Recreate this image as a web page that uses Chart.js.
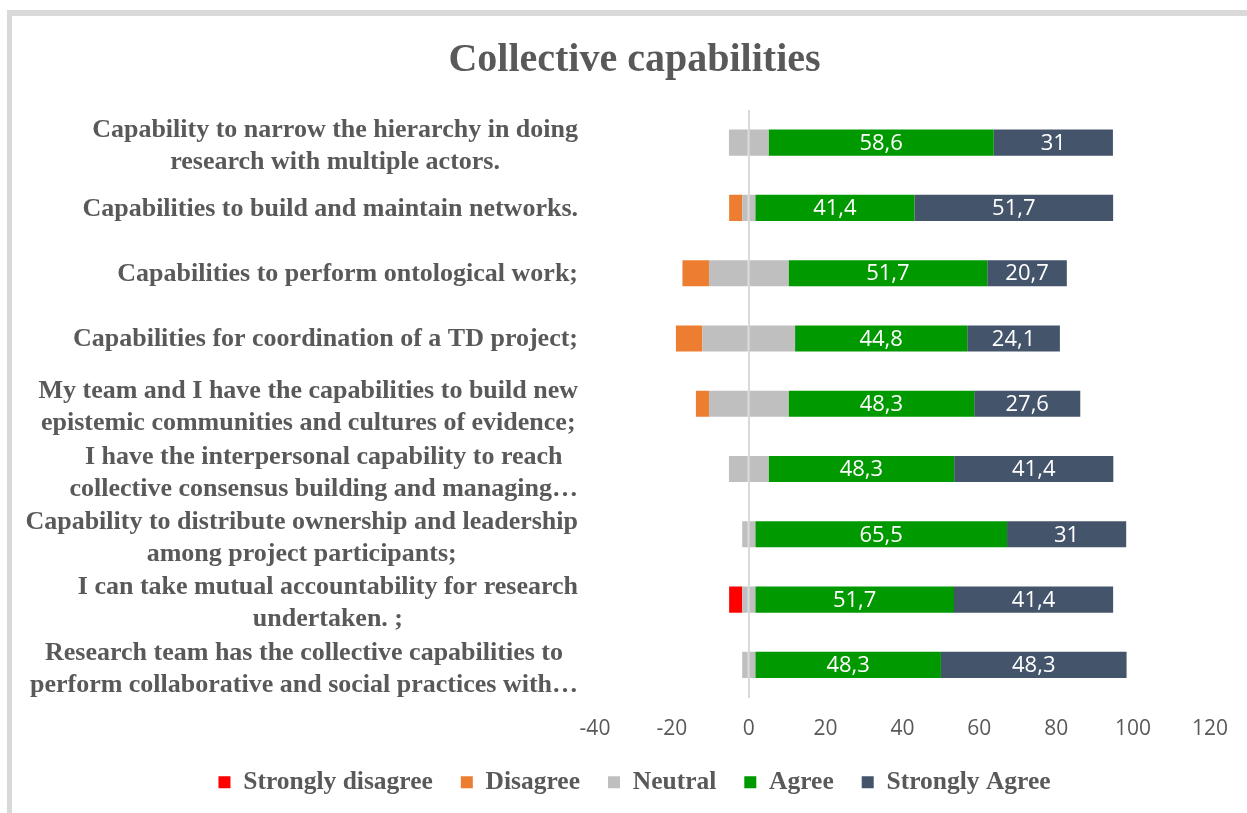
<!DOCTYPE html>
<html>
<head>
<meta charset="utf-8">
<title>Collective capabilities</title>
<script src="https://cdn.jsdelivr.net/npm/chart.js@4/dist/chart.umd.min.js"></script>
<style>
  html, body { margin: 0; padding: 0; background: #fff; }
  #wrap { position: relative; width: 1247px; height: 813px; }
  #frame {
    position: absolute; left: 7px; top: 10px; right: 0; bottom: 0;
    border-top: 6px solid #d9d9d9; border-left: 5px solid #d9d9d9;
    pointer-events: none;
  }
</style>
</head>
<body>
<div id="wrap">
  <canvas id="chart" width="1247" height="813"></canvas>
  <div id="frame"></div>
</div>
<script>
const categories = [
  ["Capability to narrow the hierarchy in doing", "research with multiple actors."],
  "Capabilities to build and maintain networks.",
  "Capabilities to perform ontological work;",
  "Capabilities for coordination of a TD project;",
  ["My team and I have the capabilities to build new", "epistemic communities and cultures of evidence;"],
  ["I have the interpersonal capability to reach", "collective consensus building and managing…"],
  ["Capability to distribute ownership and leadership", "among project participants;"],
  ["I can take mutual accountability for research", "undertaken. ;"],
  ["Research team has the collective capabilities to", "perform collaborative and social practices with…"],
];

// percentages per statement
const stronglyDisagree = [0, 0, 0, 0, 0, 0, 0, 3.4, 0];
const disagree = [0, 3.4, 6.9, 6.9, 3.4, 0, 0, 0, 0];
const neutral = [10.3, 3.4, 20.7, 24.1, 20.7, 10.3, 3.4, 3.4, 3.4];
const agree = [58.6, 41.4, 51.7, 44.8, 48.3, 48.3, 65.5, 51.7, 48.3];
const stronglyAgree = [31, 51.7, 20.7, 24.1, 27.6, 41.4, 31, 41.4, 48.3];

const xMin = -40;
const xMax = 120;
const xStep = 20;

const textGray = "#595959";
const labelRight = 578;

// neutral is split half either side of zero, negatives go left
const neg = (arr) => arr.map((v) => -v);
const half = (arr) => arr.map((v) => v / 2);

const yLabelPlugin = {
  id: "yLabels",
  afterDraw(chart) {
    const ctx = chart.ctx;
    const yScale = chart.scales.y;
    ctx.save();
    ctx.font = "bold 26px 'Liberation Serif'";
    ctx.fillStyle = textGray;
    ctx.textAlign = "center";
    ctx.textBaseline = "middle";
    categories.forEach((label, i) => {
      const lines = Array.isArray(label) ? label : [label];
      const widest = Math.max(...lines.map((l) => ctx.measureText(l).width));
      const cx = labelRight - widest / 2;
      const cy = yScale.getPixelForTick(i);
      const shift = lines.length > 1 ? 4 : 1;
      lines.forEach((line, j) => {
        ctx.fillText(line, cx, cy + (j - (lines.length - 1) / 2) * 32 + shift);
      });
    });
    ctx.restore();
  },
};

const valueLabelPlugin = {
  id: "valueLabels",
  afterDatasetsDraw(chart) {
    const ctx = chart.ctx;
    ctx.save();
    ctx.font = "22px 'Open Sans'";
    ctx.fillStyle = "#ffffff";
    ctx.textAlign = "center";
    ctx.textBaseline = "middle";
    [4, 5].forEach((idx) => {
      const ds = chart.data.datasets[idx];
      chart.getDatasetMeta(idx).data.forEach((bar, i) => {
        const v = ds.data[i];
        if (!v) return;
        const p = bar.getProps(["x", "y", "base"], true);
        ctx.fillText(String(v).replace(".", ","), (p.x + p.base) / 2, p.y + 1);
      });
    });
    ctx.restore();
  },
};

const legendRank = { 2: 0, 1: 1, 0: 2, 4: 3, 5: 4 };

new Chart(document.getElementById("chart"), {
  type: "bar",
  data: {
    labels: categories,
    datasets: [
      { label: "Neutral", data: neg(half(neutral)), backgroundColor: "#BFBFBF" },
      { label: "Disagree", data: neg(disagree), backgroundColor: "#ED7D31" },
      { label: "Strongly disagree", data: neg(stronglyDisagree), backgroundColor: "#FF0000" },
      { label: "Neutral ", data: half(neutral), backgroundColor: "#BFBFBF" },
      { label: "Agree", data: agree, backgroundColor: "#009900" },
      { label: "Strongly Agree", data: stronglyAgree, backgroundColor: "#44546A" },
    ],
  },
  options: {
    indexAxis: "y",
    responsive: false,
    animation: false,
    datasets: { bar: { barPercentage: 0.4, categoryPercentage: 1, borderWidth: 0 } },
    layout: { padding: { left: 58, right: 36, top: 0, bottom: 8 } },
    scales: {
      x: {
        stacked: true,
        min: xMin,
        max: xMax,
        ticks: {
          stepSize: xStep,
          padding: 19,
          color: textGray,
          font: { family: "'Open Sans'", size: 21 },
        },
        grid: {
          drawTicks: false,
          lineWidth: 2,
          color: (c) => (c.tick && c.tick.value === 0 ? "#d9d9d9" : "rgba(0,0,0,0)"),
        },
        border: { display: false },
        afterFit: (scale) => { scale.height = 44; },
      },
      y: {
        stacked: true,
        ticks: { display: false },
        grid: { display: false },
        border: { display: false },
        afterFit: (scale) => { scale.width = 537; },
      },
    },
    plugins: {
      tooltip: { enabled: false },
      title: {
        display: true,
        text: "Collective capabilities",
        color: textGray,
        font: { family: "'Liberation Serif'", size: 40, weight: "bold" },
        padding: { top: 37, bottom: 25 },
      },
      legend: {
        position: "bottom",
        maxHeight: 76,
        labels: {
          color: textGray,
          font: { family: "'Liberation Serif'", size: 25.5, weight: "bold" },
          boxWidth: 12,
          boxHeight: 12,
          padding: 28,
          filter: (item) => item.datasetIndex !== 3,
          sort: (a, b) => legendRank[a.datasetIndex] - legendRank[b.datasetIndex],
        },
      },
    },
  },
  plugins: [yLabelPlugin, valueLabelPlugin],
});
</script>
</body>
</html>
